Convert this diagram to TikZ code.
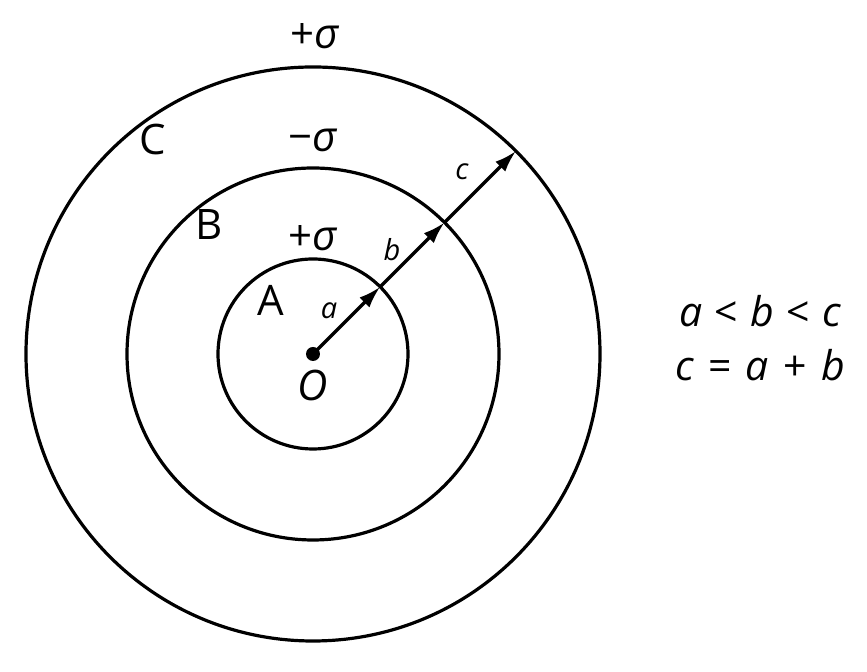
\documentclass[tikz,border=0pt]{standalone}
\usepackage{fontspec}
\setmainfont{Open Sans}
\usetikzlibrary{arrows.meta}
\begin{document}
\begin{tikzpicture}[x=0.5pt, y=0.5pt, line width=1.6pt,
  every node/.style={font=\fontsize{21}{24}\selectfont, inner sep=0pt},
  rlabel/.style={font=\fontsize{14.5}{17}\selectfont\itshape},
  charge/.style={font=\fontsize{21}{24}\selectfont},
  relation/.style={font=\fontsize{20.5}{24}\selectfont},
  radius arrow/.style={-{Latex[length=11pt, width=7pt]}}]
  \useasboundingbox (-313,-318) rectangle (554,354);
  \coordinate (O) at (0,0);
  \coordinate (Pa) at (45:95);
  \coordinate (Pb) at (45:186);
  \coordinate (Pc) at (45:287);

  \draw (O) circle[radius=95];
  \draw (O) circle[radius=186];
  \draw (O) circle[radius=287];
  \fill (O) circle[radius=7];

  \draw[radius arrow] (O) -- (Pa);
  \draw[radius arrow] (Pa) -- (Pb);
  \draw[radius arrow] (Pb) -- (Pc);

  \node[rlabel] (la) at (16,43) {a};
  \node[rlabel] (lb) at (79,104) {b};
  \node[rlabel] (lc) at (149,182) {c};
  \node (lO) at (0,-31) {\itshape O};

  \node (A) at (-42,54) {A};
  \node (B) at (-104,129) {B};
  \node (C) at (-160,214) {C};

  \node[charge] (qa) at (0,116) {+\itshape σ};
  \node[charge] (qb) at (0,214) {−\itshape σ};
  \node[charge] (qc) at (2,318) {+\itshape σ};

  \node[relation] (rel1) at (447,43) {\itshape a\hspace{0.3em}\upshape<\hspace{0.3em}\itshape b\hspace{0.3em}\upshape<\hspace{0.3em}\itshape c};
  \node[relation] (rel2) at (447,-11) {\itshape c\hspace{0.35em}\upshape=\hspace{0.35em}\itshape a\hspace{0.35em}\upshape+\hspace{0.35em}\itshape b};
\end{tikzpicture}
\end{document}
